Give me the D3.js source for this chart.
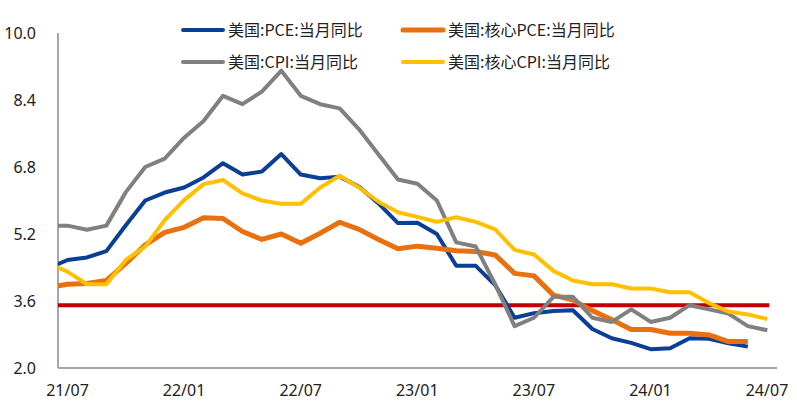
<!DOCTYPE html>
<html><head><meta charset="utf-8">
<script src="https://cdn.jsdelivr.net/npm/d3@7"></script>
<style>body{margin:0;background:#fff}svg{display:block}</style>
</head><body>
<svg id="c" width="797" height="413"></svg>
<script>
// months 21/06 .. 24/07 (first point lies left of the axis and is clipped)
const months = ["21/06","21/07","21/08","21/09","21/10","21/11","21/12","22/01","22/02","22/03","22/04","22/05","22/06",
  "22/07","22/08","22/09","22/10","22/11","22/12","23/01","23/02","23/03","23/04","23/05","23/06",
  "23/07","23/08","23/09","23/10","23/11","23/12","24/01","24/02","24/03","24/04","24/05","24/06","24/07"];
const pce = [4.38,4.58,4.64,4.79,5.41,6.0,6.19,6.31,6.55,6.89,6.62,6.69,7.11,6.62,6.53,6.57,6.33,5.93,5.46,5.47,5.2,4.44,4.44,3.98,3.2,3.31,3.36,3.38,2.93,2.71,2.60,2.45,2.47,2.71,2.70,2.59,2.51,null];
const corePce = [3.92,4.0,4.02,4.09,4.5,4.94,5.24,5.36,5.59,5.57,5.26,5.07,5.2,4.98,5.22,5.48,5.31,5.07,4.85,4.91,4.86,4.80,4.78,4.70,4.26,4.20,3.74,3.62,3.37,3.15,2.92,2.92,2.83,2.83,2.79,2.63,2.63,null];
const cpi = [5.4,5.4,5.3,5.4,6.2,6.8,7.0,7.5,7.9,8.5,8.3,8.6,9.1,8.5,8.3,8.2,7.7,7.1,6.5,6.4,6.0,5.0,4.9,4.0,3.0,3.2,3.7,3.7,3.2,3.1,3.4,3.1,3.2,3.5,3.4,3.3,3.0,2.9];
const coreCpi = [4.5,4.3,4.0,4.0,4.58,4.9,5.53,6.01,6.39,6.49,6.17,6.0,5.92,5.92,6.31,6.59,6.31,5.97,5.72,5.61,5.49,5.60,5.49,5.31,4.82,4.71,4.32,4.09,4.0,4.0,3.9,3.9,3.81,3.81,3.55,3.35,3.28,3.17];
const threshold = 3.5;
const yTicks = [2.0,3.6,5.2,6.8,8.4,10.0];
const xTickLabels = ["21/07","22/01","22/07","23/01","23/07","24/01","24/07"];
const seriesNames = ["美国:PCE:当月同比","美国:核心PCE:当月同比","美国:CPI:当月同比","美国:核心CPI:当月同比"];
const seriesColors = ["#0a3f95","#e8700f","#808080","#ffc000"];

const svg = d3.select("#c");
const L = 58, R = 777, T = 33, B = 368;
const x = d3.scaleLinear().domain([1, 37]).range([67.5, 767.3]);   // index in months array
const xLab = d3.scalePoint().domain(xTickLabels).range([67.5, 767]);
const y = d3.scaleLinear().domain([2, 10]).range([B, T]);

svg.append("clipPath").attr("id","clip").append("rect")
  .attr("x", L).attr("y", 0).attr("width", R - L).attr("height", 413);

// axes lines
svg.append("line").attr("x1", L).attr("x2", L).attr("y1", T).attr("y2", B)
  .attr("stroke", "#a6a6a6").attr("stroke-width", 2);
svg.append("line").attr("x1", L).attr("x2", R).attr("y1", B).attr("y2", B)
  .attr("stroke", "#a6a6a6").attr("stroke-width", 2);

// y tick labels
svg.append("g").selectAll("text").data(yTicks).join("text")
  .attr("x", 36).attr("y", d => y(d)).attr("dy", "0.35em")
  .attr("text-anchor", "end").attr("font-family", "'Noto Sans', 'Open Sans', sans-serif")
  .attr("font-size", 16).attr("fill", "#222").text(d => d3.format(".1f")(d));

// x tick labels (months)
svg.append("g").selectAll("text").data(xTickLabels).join("text")
  .attr("x", d => xLab(d)).attr("y", 390).attr("dy", "0.35em")
  .attr("text-anchor", "middle").attr("font-family", "'Noto Sans', 'Open Sans', sans-serif")
  .attr("font-size", 16).attr("fill", "#222").text(d => d);

// threshold line
svg.append("line").attr("x1", L).attr("x2", x(37) + 2)
  .attr("y1", y(threshold)).attr("y2", y(threshold))
  .attr("stroke", "#c00000").attr("stroke-width", 4);

const series = [pce, corePce, cpi, coreCpi];
const widths = [4, 5, 4, 4];
const line = d3.line().defined(d => d != null).x((d, i) => x(i)).y(d => y(d));
const g = svg.append("g").attr("clip-path", "url(#clip)");
series.forEach((s, k) => {
  g.append("path").datum(s).attr("d", line).attr("fill", "none")
    .attr("stroke", seriesColors[k]).attr("stroke-width", widths[k])
    .attr("stroke-linejoin", "round");
});

// legend
const legPos = [[183, 30], [403, 30], [183, 62], [403, 62]];
seriesNames.forEach((n, k) => {
  const [lx, ly] = legPos[k];
  svg.append("line").attr("x1", lx).attr("x2", lx + 40).attr("y1", ly).attr("y2", ly)
    .attr("stroke", seriesColors[k]).attr("stroke-width", widths[k]).attr("stroke-linecap", "round");
  svg.append("text").attr("x", lx + 45).attr("y", ly).attr("dy", "0.35em")
    .attr("font-family", "'Noto Sans CJK SC', sans-serif").attr("font-size", 16)
    .attr("fill", "#222").text(n);
});
</script>
</body></html>
